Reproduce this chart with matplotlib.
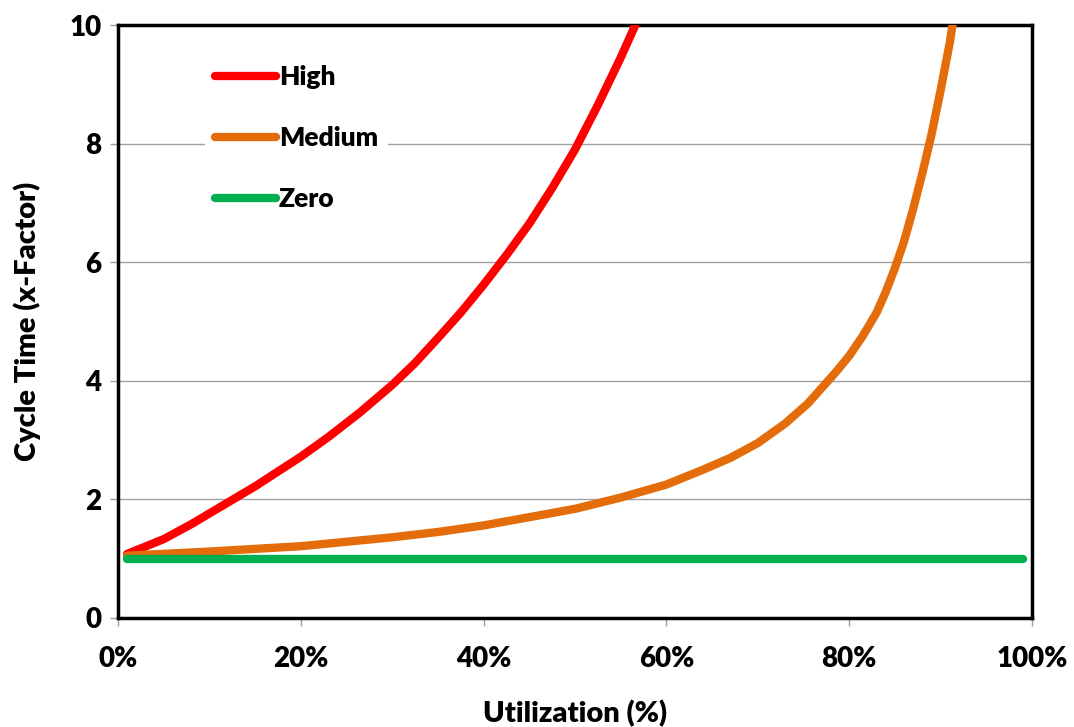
import matplotlib
matplotlib.use('Agg')
import matplotlib.pyplot as plt
from matplotlib.ticker import PercentFormatter

plt.rcParams['font.family'] = ['Lato', 'DejaVu Sans']
plt.rcParams['font.weight'] = 'heavy'

# Utilization (%) vs cycle time x-factor
high_x = [1, 5, 8, 11.5, 15, 17.5, 20, 23, 26.5, 30, 32.5, 35, 37.5, 40, 42.5, 45, 47.5, 50, 52.5, 55, 56.6]
high_y = [1.08, 1.33, 1.58, 1.9, 2.22, 2.47, 2.72, 3.05, 3.47, 3.93, 4.3, 4.72, 5.15, 5.62, 6.12, 6.65, 7.25, 7.9, 8.65, 9.45, 10.0]

medium_x = [1, 10, 20, 30, 35, 40, 45, 50, 55, 60, 64, 67, 70, 73, 75.5, 78.5, 80, 81.5, 83, 84, 85, 86, 87, 88, 89, 90, 91, 91.5]
medium_y = [1.05, 1.12, 1.21, 1.36, 1.45, 1.56, 1.7, 1.84, 2.03, 2.25, 2.5, 2.7, 2.95, 3.28, 3.62, 4.14, 4.42, 4.76, 5.15, 5.5, 5.9, 6.35, 6.9, 7.5, 8.15, 8.9, 9.7, 10.2]

zero_x = [1, 99]
zero_y = [1.0, 1.0]

fig = plt.figure(figsize=(10.74, 7.27), dpi=100)
ax = fig.add_axes([0.1099, 0.150, 0.851, 0.8156])

ax.plot(high_x, high_y, color='#FF0000', lw=6, solid_capstyle='round', solid_joinstyle='round', label='High', zorder=3)
ax.plot(medium_x, medium_y, color='#E46C0A', lw=6, solid_capstyle='round', solid_joinstyle='round', label='Medium', zorder=3)
ax.plot(zero_x, zero_y, color='#00B050', lw=6, solid_capstyle='round', label='Zero', zorder=3)

ax.set_xlim(0, 100)
ax.set_ylim(0, 10)
ax.set_xticks([0, 20, 40, 60, 80, 100])
ax.set_yticks([0, 2, 4, 6, 8, 10])
ax.xaxis.set_major_formatter(PercentFormatter(decimals=0))
ax.tick_params(axis='both', labelsize=20, color='#A0A0A0', length=6, width=1)
ax.tick_params(axis='x', pad=14)
ax.tick_params(axis='y', pad=6)
ax.grid(axis='y', color='#A0A0A0', lw=1)
ax.set_axisbelow(True)
for s in ax.spines.values():
    s.set_color('black')
    s.set_linewidth(2.5)

ax.set_xlabel('Utilization (%)', fontsize=21, fontweight='heavy', labelpad=20)
ax.set_ylabel('Cycle Time (x-Factor)', fontsize=21, fontweight='heavy', labelpad=20)

leg = ax.legend(loc='upper left', bbox_to_anchor=(0.095, 0.95), borderaxespad=0,
                fontsize=19, handlelength=2.3, handletextpad=0.1, labelspacing=1.4,
                frameon=True, fancybox=False, edgecolor='none', facecolor='white', framealpha=1)

fig.savefig('out.png', dpi=100)
